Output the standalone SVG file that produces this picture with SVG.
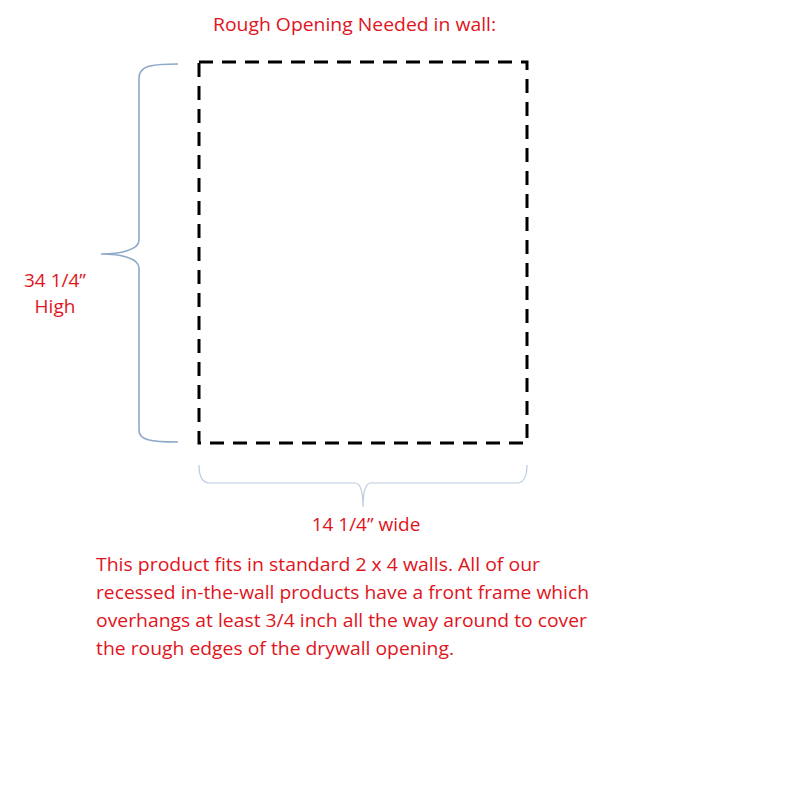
<svg xmlns="http://www.w3.org/2000/svg" width="793" height="793" viewBox="0 0 793 793">
<style>
.t{font-family:"Open Sans","Liberation Sans",sans-serif;font-size:19px;fill:#e0141c}
.brace{fill:none;stroke:#8ea8c8;stroke-width:1.6}
</style>
<rect width="793" height="793" fill="#ffffff"/>
<g id="title"><text class="t" x="213" y="31" textLength="283" lengthAdjust="spacingAndGlyphs">Rough Opening Needed in wall:</text></g>
<g id="opening"><rect x="199" y="62" width="328" height="381" fill="none" stroke="#000" stroke-width="3" stroke-dasharray="14 9"/></g>
<g id="connectors">
<path class="brace" d="M178,64 C150,64 139,66 139,78 L139,240 C139,250 120,254 101,254 C120,254 139,258 139,268 L139,430 C139,440 150,442 178,442"/>
<path class="brace" stroke="#c2d0e2" d="M199,465 C199,475 202,483 210,483 L355,483 C360,483 363,490 363,507 C363,490 366,483 371,483 L517,483 C524,483 527,475 527,465" style="stroke:#b9c9de;stroke-width:1.2"/>
</g>
<g id="height-label">
<text class="t" x="55" y="287" text-anchor="middle">34 1/4”</text>
<text class="t" x="55" y="313" text-anchor="middle">High</text>
</g>
<g id="width-label"><text class="t" x="366" y="531" text-anchor="middle">14 1/4” wide</text></g>
<g id="note">
<text class="t" x="96" y="571" textLength="444" lengthAdjust="spacingAndGlyphs">This product fits in standard 2 x 4 walls.  All of our</text>
<text class="t" x="96" y="599" textLength="493" lengthAdjust="spacingAndGlyphs">recessed  in-the-wall products have a front frame which</text>
<text class="t" x="96" y="627" textLength="491" lengthAdjust="spacingAndGlyphs">overhangs at least 3/4  inch all the way around to cover</text>
<text class="t" x="96" y="655" textLength="358" lengthAdjust="spacingAndGlyphs">the rough edges of the drywall opening.</text>
</g>
</svg>
